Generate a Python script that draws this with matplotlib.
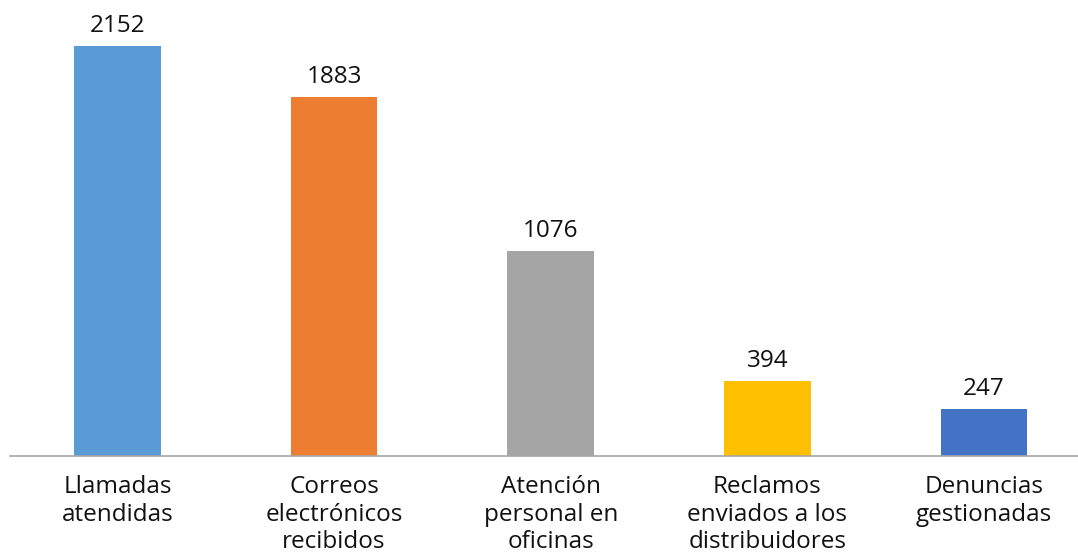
import matplotlib
matplotlib.use("Agg")
import matplotlib.pyplot as plt

plt.rcParams['font.family'] = ['Open Sans', 'DejaVu Sans']

categorias = ["Llamadas\natendidas", "Correos\nelectrónicos\nrecibidos",
              "Atención\npersonal en\noficinas", "Reclamos\nenviados a los\ndistribuidores",
              "Denuncias\ngestionadas"]
valores = [2152, 1883, 1076, 394, 247]
colores = ["#5B9BD5", "#ED7D31", "#A5A5A5", "#FFC000", "#4472C4"]

fig = plt.figure(figsize=(10.78, 5.55), dpi=100)
ax = fig.add_axes([10 / 1078, 1 - 456 / 555, 1068 / 1078, 456 / 555])

x = list(range(len(valores)))
barras = ax.bar(x, valores, width=0.40, color=colores)

for xi, v in zip(x, valores):
    ax.text(xi, v + 42, str(v), ha="center", va="bottom", fontsize=17.5, color="#111111")

ax.set_xlim(-0.496, 4.434)
ax.set_ylim(0, 2394)
ax.set_xticks(x)
ax.set_xticklabels(categorias, fontsize=17.5, color="#111111", linespacing=1.17, va="top")
ax.tick_params(axis="x", length=0, pad=14)
ax.set_yticks([])
for lado in ["top", "right", "left"]:
    ax.spines[lado].set_visible(False)
ax.spines["bottom"].set_color("#a6a6a6")
ax.spines["bottom"].set_linewidth(1.2)

fig.savefig("out.png", dpi=100)
